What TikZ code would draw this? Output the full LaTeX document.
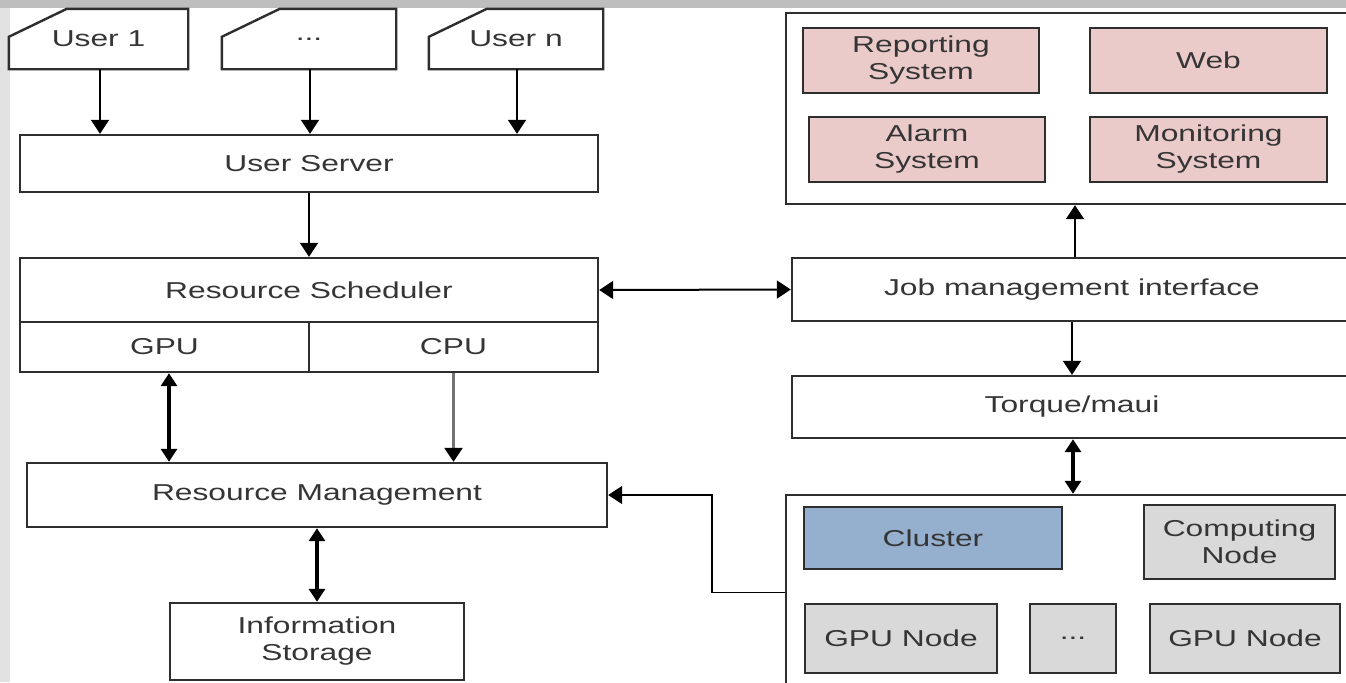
\documentclass[tikz,border=0pt]{standalone}
\usepackage{fontspec}
\setmainfont{Liberation Sans}[FakeStretch=1.38]
\usetikzlibrary{arrows.meta,calc}
\definecolor{pinkfill}{HTML}{EBCACA}
\definecolor{bluefill}{HTML}{95AFCF}
\definecolor{grayfill}{HTML}{D9D9D9}
\definecolor{edge}{HTML}{2E2E2E}
\definecolor{ink}{HTML}{353535}
\definecolor{bgtop}{HTML}{BEBEBE}
\definecolor{bgside}{HTML}{E2E2E2}
\begin{document}
\begin{tikzpicture}[x=0.5pt,y=-0.5pt,
  wh/.style 2 args={minimum width=#1*0.5pt, minimum height=#2*0.5pt},
  box/.style={draw=edge, line width=1.2pt, fill=white, inner sep=0pt,
    text=ink, font=\fontsize{11.5}{13.5}\selectfont, align=center},
  userbox/.style={box, draw=none, fill=none},
  appbox/.style={box, fill=pinkfill},
  clusterbox/.style={box, fill=bluefill},
  hostbox/.style={box, fill=grayfill},
  outline/.style={draw=edge, line width=1.2pt, line join=miter},
  arr/.style={draw=black, line width=1pt, -{Triangle[width=9pt,length=7pt]}},
  garr/.style={draw=black!55, line width=1.3pt, -{Triangle[width=9pt,length=7pt,color=black]}},
  biarr/.style={draw=black, line width=1pt, {Triangle[width=9pt,length=7pt]}-{Triangle[width=9pt,length=7pt]}},
  thickbiarr/.style={draw=black, line width=1.7pt, {Triangle[width=8pt,length=6.5pt]}-{Triangle[width=8pt,length=6.5pt]}},
]
% page and backdrop
\useasboundingbox (0,0) rectangle (1346,682);
\clip (0,0) rectangle (1346,682);
\fill[bgside] (0,0) rectangle (1346,682);
\fill[bgtop] (0,0) rectangle (1346,8);
\fill[white] (10,8) rectangle (1346,682);

% users
\node[userbox, wh={177}{58}] (u1) at (98.5,39) {User 1};
\node[userbox, wh={172}{58}] (ud) at (309,39) {...};
\node[userbox, wh={172}{58}] (un) at (516,39) {User n};
\foreach \n in {u1,ud,un}
  \draw[outline] ($(\n.north west)+(0,28)$) -- ($(\n.north west)+(58,0)$)
    -- (\n.north east) -- (\n.south east) -- (\n.south west) -- cycle;

% left column
\node[box, wh={578}{57}] (server) at (309,163.5) {User Server};
\node[box, wh={578}{64}] (sched) at (309,290) {Resource Scheduler};
\node[box, wh={289}{50}] (gpu) at (164.5,347) {GPU};
\node[box, wh={289}{50}] (cpu) at (453.5,347) {CPU};
\node[box, wh={580}{64}] (rm) at (317,495) {Resource Management};
\node[box, wh={294}{77}] (is) at (317,641.5) {Information\\Storage};

% right column
\node[box, wh={566}{191}] (apps) at (1069,108.5) {};
\node[appbox, wh={236}{65}] (rep) at (921,60.5) {Reporting\\System};
\node[appbox, wh={237}{65}] (web) at (1208.5,60.5) {Web};
\node[appbox, wh={236}{65}] (alarm) at (927,149.5) {Alarm\\System};
\node[appbox, wh={237}{65}] (mon) at (1208.5,149.5) {Monitoring\\System};

\node[box, wh={560}{63}] (jmi) at (1072,289.5) {Job management interface};
\node[box, wh={560}{62}] (torque) at (1072,407) {Torque/maui};

\node[box, wh={566}{195}] (nodes) at (1069,592.5) {};
\node[clusterbox, wh={258}{62}] (cluster) at (933,538) {Cluster};
\node[hostbox, wh={191}{74}] (comp) at (1239.5,542) {Computing\\Node};
\node[hostbox, wh={192}{69}] (gpu1) at (901,638.5) {GPU Node};
\node[hostbox, wh={86}{69}] (gdots) at (1073,638.5) {...};
\node[hostbox, wh={190}{69}] (gpu2) at (1245,638.5) {GPU Node};

% connectors
\coordinate (a1) at ($(u1.south)+(1.5,0)$);
\coordinate (a2) at ($(ud.south)+(1,0)$);
\coordinate (a3) at ($(un.south)+(1,0)$);
\draw[arr] (a1) -- (a1 |- server.north);
\draw[arr] (a2) -- (a2 |- server.north);
\draw[arr] (a3) -- (a3 |- server.north);
\draw[arr] (server.south) -- (sched.north);

\coordinate (ga) at ($(gpu.south)+(4.5,0)$);
\draw[thickbiarr] (ga) -- (ga |- rm.north);
\draw[garr] (cpu.south) -- (cpu.south |- rm.north);
\draw[thickbiarr] (rm.south) -- (is.north);

\draw[biarr] (sched.east) -- (jmi.west);
\coordinate (ja) at ($(jmi.north)+(3,0)$);
\draw[arr] (ja) -- (ja |- apps.south);
\draw[arr] (jmi.south) -- (torque.north);
\coordinate (tn) at ($(torque.south)+(1,0)$);
\draw[thickbiarr] (tn) -- (tn |- nodes.north);

\draw[arr, line width=0.8pt] (nodes.west) -- ++(-73,0) |- (rm.east);
\end{tikzpicture}
\end{document}
